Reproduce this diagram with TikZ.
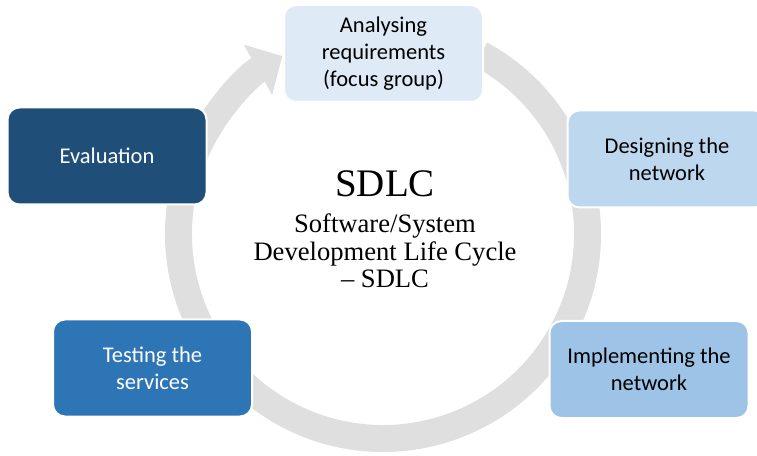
\documentclass[tikz,border=0pt]{standalone}
\usepackage{fontspec}
\setmainfont{Liberation Serif}
\newfontfamily\stagefont{Carlito}
\usetikzlibrary{arrows.meta}
\definecolor{PaleBlue}{RGB}{222,235,247}
\definecolor{SkyBlue}{RGB}{189,215,238}
\definecolor{MidBlue}{RGB}{157,195,230}
\definecolor{StrongBlue}{RGB}{46,117,182}
\definecolor{NavyBlue}{RGB}{31,78,121}
\definecolor{RingGray}{RGB}{223,223,223}

\begin{document}
\begin{tikzpicture}[x=1pt, y=1pt, every node/.style={align=center}]
  \tikzset{
    stage/.style={draw=white, line width=2pt, rounded corners=12pt, minimum width=199pt, minimum height=97pt,
      font=\stagefont\fontsize{22.5}{26.7}\selectfont},
    ring/.style={RingGray, line width=27pt, -{Triangle[width=56pt, length=28pt]}}
  }
  \useasboundingbox (0,0) rectangle (757,455);
  \coordinate (hub) at (383,221);

  % cycle arrow behind the boxes
  \draw[ring] (hub) ++(61.5:204.5) arc[start angle=61.5, end angle=-240.5, radius=204.5];

  \node[stage, fill=PaleBlue] (analyse) at (383.5,401.5) {Analysing\\requirements\\(focus group)};
  \node[stage, fill=SkyBlue] (design) at (667,296) {Designing the\\network};
  \node[stage, fill=MidBlue] (implement) at (649,85.5) {Implementing the\\network};
  \node[stage, fill=StrongBlue, text=white] (test) at (152.5,87) {Testing the\\services};
  \node[stage, fill=NavyBlue, text=white] (evaluate) at (107,299) {Evaluation};

  % centre text
  \node[font=\fontsize{39}{40}\selectfont] (title) at (385,271) {SDLC};
  \node[font=\fontsize{26.6}{27.7}\selectfont] (caption) at (385,204) {Software/System\\Development Life Cycle\\-- SDLC};
\end{tikzpicture}
\end{document}
